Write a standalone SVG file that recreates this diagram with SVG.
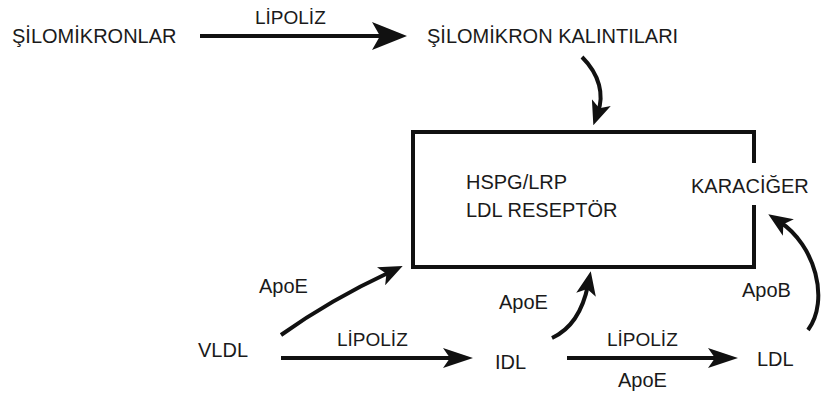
<svg xmlns="http://www.w3.org/2000/svg" width="822" height="396" viewBox="0 0 822 396">
<style>
text{font-family:"Liberation Sans",Arial,sans-serif;font-size:20px;fill:#1a1a1a}
.lbl{font-size:19px}
.c{fill:none;stroke:#111;stroke-width:4}
</style>
<defs>
<marker id="big" viewBox="0 -14 35 28" refX="14" refY="0" markerWidth="35" markerHeight="28" markerUnits="userSpaceOnUse" orient="auto"><path d="M0,-14 L35,0 L0,14 L8,0 Z" fill="#111"/></marker>
<marker id="med" viewBox="0 -10 30 20" refX="12" refY="0" markerWidth="30" markerHeight="20" markerUnits="userSpaceOnUse" orient="auto"><path d="M0,-10 L30,0 L0,10 L7,0 Z" fill="#111"/></marker>
<marker id="sm" viewBox="0 -10 24 20" refX="10" refY="0" markerWidth="24" markerHeight="20" markerUnits="userSpaceOnUse" orient="auto"><path d="M0,-10 L24,0 L0,10 L6,0 Z" fill="#111"/></marker>
</defs>
<rect width="822" height="396" fill="#fff"/>
<g id="silomikronlar"><text x="12" y="43">ŞİLOMİKRONLAR</text></g>
<g id="kalintilar"><text x="427" y="43">ŞİLOMİKRON KALINTILARI</text></g>
<g id="karaciger">
<path d="M754,163 V132 H413 V267 H754 V205" fill="none" stroke="#111" stroke-width="4"/>
<text x="466" y="189">HSPG/LRP</text>
<text x="466" y="217">LDL RESEPTÖR</text>
<text x="691" y="193">KARACİĞER</text>
</g>
<g id="vldl"><text x="198" y="357">VLDL</text></g>
<g id="idl"><text x="495" y="369">IDL</text></g>
<g id="ldl"><text x="757" y="366">LDL</text></g>
<g id="connectors">
<path class="c" d="M200,36 H386" stroke-width="5" marker-end="url(#big)"/>
<text class="lbl" x="255" y="24">LİPOLİZ</text>
<path class="c" d="M582,57 C600,75 604,95 598,112" marker-end="url(#sm)"/>
<path class="c" d="M281,335 Q330,300 390,272" marker-end="url(#sm)"/>
<text x="259" y="293">ApoE</text>
<path class="c" d="M281,358 H455" marker-end="url(#med)"/>
<text class="lbl" x="337" y="346">LİPOLİZ</text>
<path class="c" d="M552,338 Q580,325 588,285" marker-end="url(#sm)"/>
<text x="499" y="309">ApoE</text>
<path class="c" d="M567,358 H720" marker-end="url(#med)"/>
<text class="lbl" x="607" y="346">LİPOLİZ</text>
<text x="618" y="387">ApoE</text>
<path class="c" d="M808,330 C830,300 815,245 780,222" marker-end="url(#sm)"/>
<text x="742" y="297">ApoB</text>
</g>
</svg>
